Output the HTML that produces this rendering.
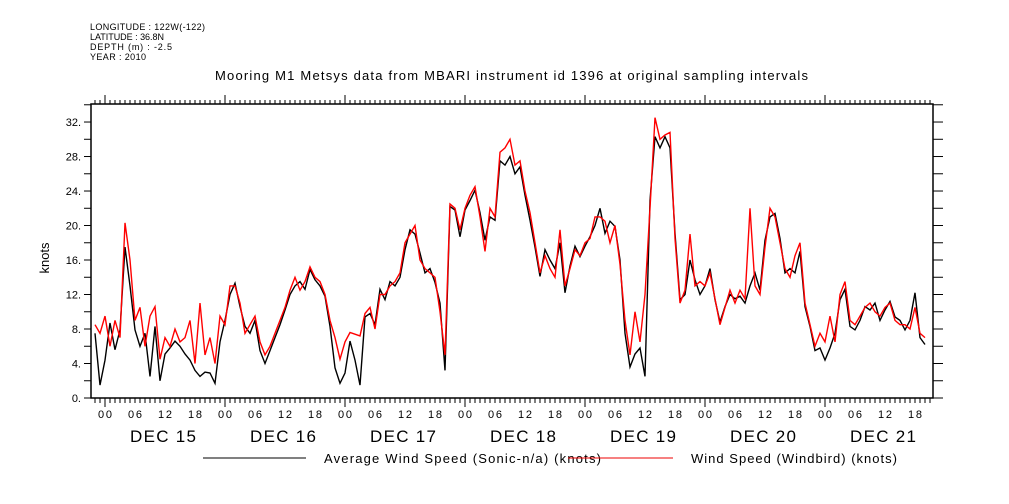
<!DOCTYPE html>
<html><head><meta charset="utf-8"><style>
body{margin:0;background:#fff;}
svg{display:block;font-family:"Liberation Sans",sans-serif;}
</style></head><body>
<svg id="chart" width="1009" height="504" viewBox="0 0 1009 504">
<g font-size="9" fill="#000">
<text x="90" y="30" textLength="115">LONGITUDE : 122W(-122)</text>
<text x="90" y="40" textLength="74">LATITUDE : 36.8N</text>
<text x="90" y="50" textLength="82">DEPTH (m) : -2.5</text>
<text x="90" y="60" textLength="56">YEAR : 2010</text>
</g>
<text x="215" y="80" textLength="593" font-size="13">Mooring M1 Metsys data from MBARI instrument id 1396 at original sampling intervals</text>
<text transform="translate(49,258) rotate(-90)" text-anchor="middle" font-size="13">knots</text>
<g id="axes"></g>
<g id="series"></g>
<g>
<line x1="203" y1="458" x2="306" y2="458" stroke="#000" stroke-width="1"/>
<text x="324" y="463" font-size="13" textLength="277">Average Wind Speed (Sonic-n/a) (knots)</text>
<line x1="568" y1="458" x2="673" y2="458" stroke="#e00" stroke-width="1"/>
<text x="691" y="463" font-size="13" textLength="206">Wind Speed (Windbird) (knots)</text>
</g>
</svg>
<script>
const startHour = -2;
const avgSpeed = [7.5,1.5,4.4,8.7,5.6,7.9,17.5,13,7.9,6.0,7.5,2.5,8.3,2.0,5.1,5.8,6.6,6.0,5.1,4.4,3.2,2.5,3.0,2.9,1.7,6.5,9.0,12.0,13.3,10.6,8.3,7.5,9.0,5.5,4.0,5.5,7.0,8.5,10.2,12.0,13.0,13.5,12.6,14.9,13.7,13.0,11.8,8.3,3.5,1.7,2.9,6.6,4.4,1.5,9.4,9.8,8.5,12.6,11.4,13.5,13.0,14.0,17.2,19.5,19.0,16.8,14.5,15.0,13.4,11.0,3.2,22.2,21.8,18.7,21.8,22.9,24.1,21.5,18.3,21,20.6,27.5,27.0,28.0,26.0,26.8,23.5,20.6,17.5,14.1,17.2,16.0,15.0,18.0,12.2,15.3,17.6,16.4,17.6,18.7,20.0,22.0,19.1,20.5,19.9,16,7.5,3.6,5.1,5.8,2.5,22.9,30.3,29.0,30.3,29.0,19.1,11.4,12.0,16,13.7,12.0,13.0,15.0,11.4,8.8,10.6,12.0,11.5,11.8,11.0,13.0,14.5,12.5,18.3,21.0,21.4,18.5,14.5,15.0,14.5,17.0,10.6,8.3,5.5,5.8,4.4,5.8,7.5,11.4,12.6,8.3,7.9,9.0,10.6,10.2,11.0,9.0,10.2,11.2,9.4,9.0,7.9,9.0,12.2,7.0,6.2];
const windbirdSpeed = [8.5,7.5,9.5,6.0,9.0,7.0,20.3,16.0,9.0,10.5,6.0,9.5,10.6,4.5,7.0,6.0,8.0,6.5,7.0,9.0,4.0,11.0,5.0,7.0,4.0,9.5,8.5,13.0,13.0,11.0,7.5,8.5,9.5,6.5,5.0,6.0,7.5,9.0,10.5,12.5,14.0,12.5,13.5,15.2,14.0,13.5,12.0,9.0,7.0,4.5,6.5,7.6,7.4,7.2,9.8,10.5,8.0,12.0,12.0,13.0,13.5,14.5,18.0,19.0,20.0,16.0,15.0,14.5,14.0,10.0,5.0,22.5,22.0,19.5,22.0,23.5,24.5,21.0,17.0,22.0,21.0,28.5,29.0,30.0,27.0,27.5,24.0,21.5,18.0,14.5,16.5,15.0,14.0,19.5,13.0,15.0,17.2,16.5,18.0,18.5,21.0,21.0,20.5,18.0,20.0,15.5,9.0,5.0,10.0,6.5,12.0,22.0,32.5,30.0,30.5,30.8,18.5,11.0,12.5,19.0,13.0,13.5,13.0,14.5,11.5,8.5,10.5,12.5,11.0,12.5,11.5,22.0,13.0,12.0,17.5,22.0,21.0,18.0,15.0,14.0,16.5,18.0,11.0,8.5,6.0,7.5,6.5,9.5,6.5,12.0,13.5,9.0,8.5,9.5,10.5,11.0,10.0,9.5,10.5,11.0,9.0,8.5,8.5,8.0,10.5,7.5,7.0];
const yTickLabels = ["0.","4.","8.","12.","16.","20.","24.","28.","32."];
const hourLabels = ["00","06","12","18"];
const dayLabels = ["DEC 15","DEC 16","DEC 17","DEC 18","DEC 19","DEC 20","DEC 21"];

const NS="http://www.w3.org/2000/svg";
const L=91,R=933,T=104,B=398;
const xMin=-2.8,xMax=165.6,yMin=0,yMax=34.09;
function xs(h){return L+(h-xMin)/(xMax-xMin)*(R-L);}
function ys(v){return B-(v-yMin)/(yMax-yMin)*(B-T);}
function mk(tag,attrs,parent){const e=document.createElementNS(NS,tag);for(const k in attrs)e.setAttribute(k,attrs[k]);parent.appendChild(e);return e;}
const ax=document.getElementById('axes');
const fr=mk('rect',{x:L,y:T,width:R-L,height:B-T,fill:'none',stroke:'#000','stroke-width':1.5},ax);


for(let v=0;v<=yMax;v+=2){
  const y=ys(v);
  const t1=mk('line',{x1:L-7,y1:y,x2:L,y2:y,stroke:'#000','stroke-width':1},ax);
  
  
  const t2=mk('line',{x1:R,y1:y,x2:R+10,y2:y,stroke:'#000','stroke-width':1},ax);
  
  
}
yTickLabels.forEach((s,i)=>{
  const t=mk('text',{x:L-10,y:ys(i*4)+4,'text-anchor':'end','font-size':11},ax);
  t.textContent=s;
  
  
});
for(let h=-2;h<=165;h++){
  const x=xs(h);
  const day=((h%24)+24)%24===0;
  const tb=mk('line',{x1:x,y1:B,x2:x,y2:B+(day?9:5),stroke:'#000','stroke-width':1},ax);
  
  
  const tt=mk('line',{x1:x,y1:T,x2:x,y2:T-(day?9:4),stroke:'#000','stroke-width':1},ax);
  
  
}
for(let h=0;h<=165;h+=6){
  const t=mk('text',{x:xs(h)-7,y:418,textLength:14,'font-size':11},ax);
  t.textContent=hourLabels[(h/6)%4];
  
  
}
dayLabels.forEach((s,i)=>{
  const t=mk('text',{x:xs(i*24+12)-35,y:442,textLength:66,'font-size':17},ax);
  t.textContent=s;
  
  
});
const sg=document.getElementById('series');
function pts(arr){return arr.map((v,i)=>xs(startHour+i).toFixed(1)+','+ys(v).toFixed(1)).join(' ');}
const pb=mk('polyline',{points:pts(avgSpeed),fill:'none',stroke:'#000','stroke-width':1.4},sg);


const pr=mk('polyline',{points:pts(windbirdSpeed),fill:'none',stroke:'#f00','stroke-width':1.4},sg);


</script>
</body></html>
